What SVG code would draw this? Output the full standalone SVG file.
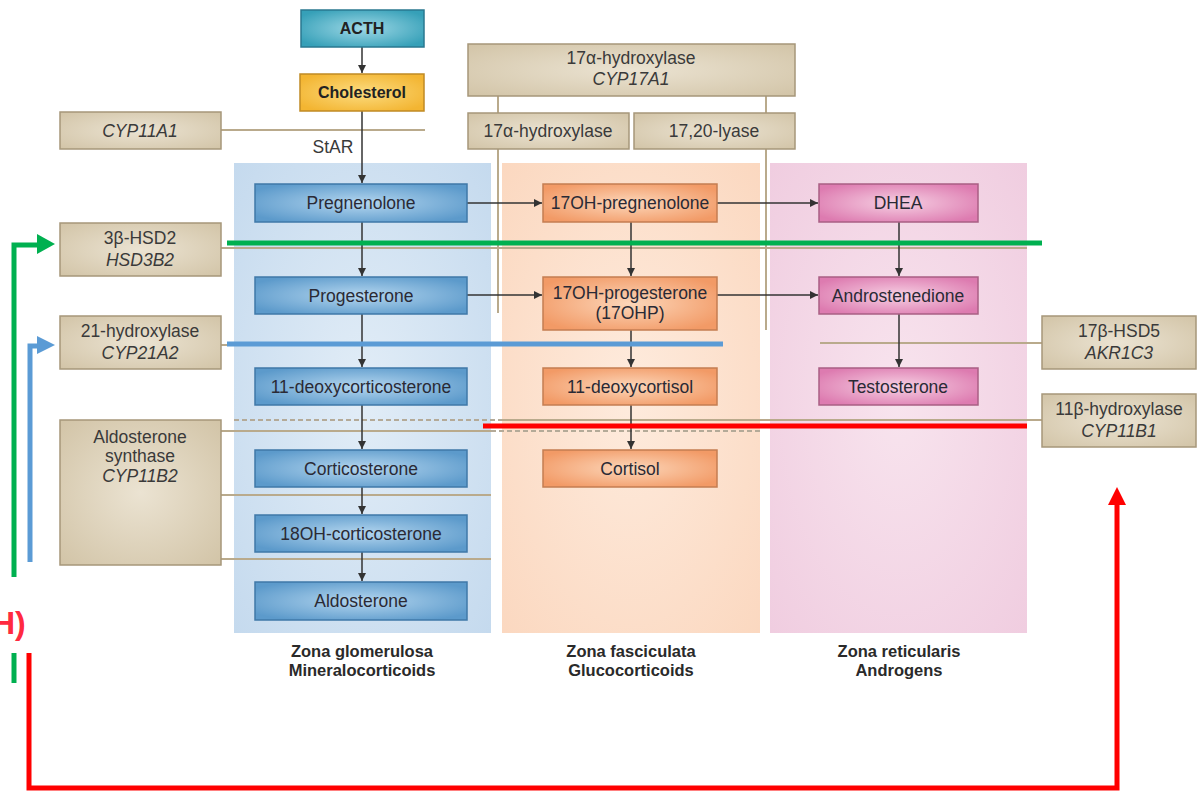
<svg xmlns="http://www.w3.org/2000/svg" width="1197" height="792" viewBox="0 0 1197 792">
<style>
text{font-family:"Liberation Sans",Arial,sans-serif;text-anchor:middle}
.t{font-size:17.5px;fill:#3a3a3a}
.i{font-style:italic}
.n{font-size:17.5px;fill:#2a2a35}
.b{font-size:16px;font-weight:bold;fill:#222}
.z{font-size:16.5px;font-weight:bold;fill:#2a2a2a}
.tan{fill:url(#gTan);stroke:#a6977a;stroke-width:1.5}
.blue{fill:url(#gBlue);stroke:#3f78a8;stroke-width:1.5}
.org{fill:url(#gOrg);stroke:#c47d52;stroke-width:1.5}
.pink{fill:url(#gPink);stroke:#a95f84;stroke-width:1.5}
.tl{stroke:#b9aa8c;stroke-width:2;fill:none}
.dl{stroke:#b4aa98;stroke-width:2;stroke-dasharray:5 3;fill:none}
.ar{stroke:#333;stroke-width:1.5;fill:none;marker-end:url(#ah)}
</style>
<defs>
<marker id="ah" viewBox="0 0 10 10" refX="10" refY="5" markerWidth="8" markerHeight="8" markerUnits="userSpaceOnUse" orient="auto"><path d="M0,0L10,5L0,10z" fill="#333"/></marker>
<radialGradient id="gTan" cx="0.5" cy="0.5" r="0.7"><stop offset="0" stop-color="#ebe3d2"/><stop offset="1" stop-color="#d2c4a7"/></radialGradient>
<radialGradient id="gBlue" cx="0.5" cy="0.5" r="0.6"><stop offset="0" stop-color="#b4d6ef"/><stop offset="1" stop-color="#5c9acb"/></radialGradient>
<radialGradient id="gOrg" cx="0.5" cy="0.5" r="0.6"><stop offset="0" stop-color="#fcd6b9"/><stop offset="1" stop-color="#f29a66"/></radialGradient>
<radialGradient id="gPink" cx="0.5" cy="0.5" r="0.6"><stop offset="0" stop-color="#f6d0e3"/><stop offset="1" stop-color="#dd7bb0"/></radialGradient>
<radialGradient id="gTeal" cx="0.5" cy="0.5" r="0.6"><stop offset="0" stop-color="#9ed8e6"/><stop offset="1" stop-color="#36a0b8"/></radialGradient>
<radialGradient id="gYel" cx="0.5" cy="0.5" r="0.6"><stop offset="0" stop-color="#fcdc80"/><stop offset="1" stop-color="#f3b532"/></radialGradient>
<radialGradient id="zBlue" cx="0.5" cy="0.5" r="0.7"><stop offset="0" stop-color="#e2edf7"/><stop offset="1" stop-color="#c5daee"/></radialGradient>
<radialGradient id="zOrg" cx="0.5" cy="0.5" r="0.7"><stop offset="0" stop-color="#feebdd"/><stop offset="1" stop-color="#fbd8c0"/></radialGradient>
<radialGradient id="zPink" cx="0.5" cy="0.5" r="0.7"><stop offset="0" stop-color="#f8e4ee"/><stop offset="1" stop-color="#f0cde0"/></radialGradient>
</defs>
<rect width="1197" height="792" fill="#fff"/>

<g id="zones">
<rect x="234" y="163" width="257" height="470" fill="url(#zBlue)"/>
<rect x="502" y="163" width="258" height="470" fill="url(#zOrg)"/>
<rect x="770" y="163" width="257" height="470" fill="url(#zPink)"/>
<text class="z" x="362" y="657">Zona glomerulosa</text>
<text class="z" x="362" y="676">Mineralocorticoids</text>
<text class="z" x="631" y="657">Zona fasciculata</text>
<text class="z" x="631" y="676">Glucocorticoids</text>
<text class="z" x="899" y="657">Zona reticularis</text>
<text class="z" x="899" y="676">Androgens</text>
</g>

<g id="enzyme-lines">
<line class="tl" x1="221" y1="130" x2="425" y2="130"/>
<line class="tl" x1="498" y1="96" x2="498" y2="113"/>
<line class="tl" x1="498" y1="149" x2="498" y2="313"/>
<line class="tl" x1="766" y1="96" x2="766" y2="113"/>
<line class="tl" x1="766" y1="149" x2="766" y2="330"/>
<line class="tl" x1="221" y1="248" x2="1027" y2="248"/>
<line class="tl" x1="221" y1="345" x2="723" y2="345"/>
<line class="tl" x1="820" y1="343" x2="1042" y2="343"/>
<line class="dl" x1="234" y1="420" x2="502" y2="420"/>
<line class="tl" x1="502" y1="420" x2="1042" y2="420"/>
<line class="tl" x1="221" y1="431" x2="491" y2="431"/>
<line class="dl" x1="491" y1="431" x2="760" y2="431"/>
<line class="tl" x1="221" y1="495" x2="491" y2="495"/>
<line class="tl" x1="221" y1="559" x2="491" y2="559"/>
</g>

<g id="connectors">
<line class="ar" x1="362" y1="47" x2="362" y2="73"/>
<line class="ar" x1="362" y1="111" x2="362" y2="183"/>
<line class="ar" x1="362" y1="222" x2="362" y2="276"/>
<line class="ar" x1="362" y1="314" x2="362" y2="367"/>
<line class="ar" x1="362" y1="405" x2="362" y2="449"/>
<line class="ar" x1="362" y1="487" x2="362" y2="514"/>
<line class="ar" x1="362" y1="552" x2="362" y2="581"/>
<line class="ar" x1="631" y1="222" x2="631" y2="276"/>
<line class="ar" x1="631" y1="330" x2="631" y2="367"/>
<line class="ar" x1="631" y1="405" x2="631" y2="449"/>
<line class="ar" x1="899" y1="222" x2="899" y2="276"/>
<line class="ar" x1="899" y1="314" x2="899" y2="367"/>
<line class="ar" x1="467" y1="203" x2="542" y2="203"/>
<line class="ar" x1="717" y1="203" x2="818" y2="203"/>
<line class="ar" x1="467" y1="295" x2="542" y2="295"/>
<line class="ar" x1="717" y1="295" x2="818" y2="295"/>
</g>
<text class="t" x="333" y="153">StAR</text>

<g id="ACTH"><rect x="301" y="10" width="123" height="37" fill="url(#gTeal)" stroke="#2a7890" stroke-width="1.5"/><text class="b" x="362" y="34">ACTH</text></g>
<g id="Cholesterol"><rect x="300" y="74" width="124" height="37" fill="url(#gYel)" stroke="#c08a24" stroke-width="1.5"/><text class="b" x="362" y="98">Cholesterol</text></g>

<g id="CYP11A1"><rect class="tan" x="60" y="112" width="161" height="37"/><text class="t i" x="140" y="137">CYP11A1</text></g>
<g id="CYP17A1"><rect class="tan" x="468" y="44" width="327" height="52"/><text class="t" x="631" y="64">17α-hydroxylase</text><text class="t i" x="631" y="85">CYP17A1</text></g>
<g id="hydroxylase17"><rect class="tan" x="468" y="113" width="161" height="36"/><text class="t" x="548" y="137">17α-hydroxylase</text></g>
<g id="lyase"><rect class="tan" x="634" y="113" width="161" height="36"/><text class="t" x="714" y="137">17,20-lyase</text></g>
<g id="HSD3B2"><rect class="tan" x="60" y="223" width="161" height="53"/><text class="t" x="140" y="244">3β-HSD2</text><text class="t i" x="140" y="266">HSD3B2</text></g>
<g id="CYP21A2"><rect class="tan" x="60" y="316" width="161" height="53"/><text class="t" x="140" y="337">21-hydroxylase</text><text class="t i" x="140" y="359">CYP21A2</text></g>
<g id="CYP11B2"><rect class="tan" x="60" y="420" width="161" height="145"/><text class="t" x="140" y="443">Aldosterone</text><text class="t" x="140" y="462">synthase</text><text class="t i" x="140" y="482">CYP11B2</text></g>
<g id="AKR1C3"><rect class="tan" x="1042" y="316" width="154" height="53"/><text class="t" x="1119" y="337">17β-HSD5</text><text class="t i" x="1119" y="359">AKR1C3</text></g>
<g id="CYP11B1"><rect class="tan" x="1042" y="394" width="154" height="53"/><text class="t" x="1119" y="415">11β-hydroxylase</text><text class="t i" x="1119" y="437">CYP11B1</text></g>

<g id="Pregnenolone"><rect class="blue" x="255" y="184" width="212" height="38"/><text class="n" x="361" y="209">Pregnenolone</text></g>
<g id="Progesterone"><rect class="blue" x="255" y="277" width="212" height="37"/><text class="n" x="361" y="302">Progesterone</text></g>
<g id="DOC"><rect class="blue" x="255" y="368" width="212" height="37"/><text class="n" x="361" y="393">11-deoxycorticosterone</text></g>
<g id="Corticosterone"><rect class="blue" x="255" y="450" width="212" height="37"/><text class="n" x="361" y="475">Corticosterone</text></g>
<g id="OHCorticosterone"><rect class="blue" x="255" y="515" width="212" height="37"/><text class="n" x="361" y="540">18OH-corticosterone</text></g>
<g id="Aldosterone"><rect class="blue" x="255" y="582" width="212" height="38"/><text class="n" x="361" y="607">Aldosterone</text></g>

<g id="OHPregnenolone"><rect class="org" x="543" y="184" width="174" height="38"/><text class="n" x="630" y="209">17OH-pregnenolone</text></g>
<g id="OHProgesterone"><rect class="org" x="543" y="277" width="174" height="53"/><text class="n" x="630" y="299">17OH-progesterone</text><text class="n" x="630" y="319">(17OHP)</text></g>
<g id="Deoxycortisol"><rect class="org" x="543" y="368" width="174" height="37"/><text class="n" x="630" y="393">11-deoxycortisol</text></g>
<g id="Cortisol"><rect class="org" x="543" y="450" width="174" height="37"/><text class="n" x="630" y="475">Cortisol</text></g>

<g id="DHEA"><rect class="pink" x="819" y="184" width="159" height="38"/><text class="n" x="898" y="209">DHEA</text></g>
<g id="Androstenedione"><rect class="pink" x="819" y="277" width="159" height="37"/><text class="n" x="898" y="302">Androstenedione</text></g>
<g id="Testosterone"><rect class="pink" x="819" y="368" width="159" height="37"/><text class="n" x="898" y="393">Testosterone</text></g>

<g id="overlay">
<line x1="227" y1="243" x2="1042" y2="243" stroke="#00b050" stroke-width="5"/>
<line x1="227" y1="344" x2="723" y2="344" stroke="#5b9bd5" stroke-width="5"/>
<line x1="483" y1="426" x2="1027" y2="426" stroke="#ff0000" stroke-width="5"/>
<path d="M14,577V245H40" stroke="#00b050" stroke-width="5" fill="none"/>
<path d="M37,234L55,244L37,254z" fill="#00b050"/>
<line x1="14" y1="653" x2="14" y2="683" stroke="#00b050" stroke-width="5"/>
<path d="M30,562V346H40" stroke="#5b9bd5" stroke-width="5" fill="none"/>
<path d="M37,336L55,345L37,354z" fill="#5b9bd5"/>
<path d="M29,653V788H1117V504" stroke="#ff0000" stroke-width="5" fill="none"/>
<path d="M1108,505L1117,487L1126,505z" fill="#ff0000"/>
<text x="-8" y="634" style="font-size:32px;font-weight:bold;fill:#ff2a40;text-anchor:start">H)</text>
</g>
</svg>
